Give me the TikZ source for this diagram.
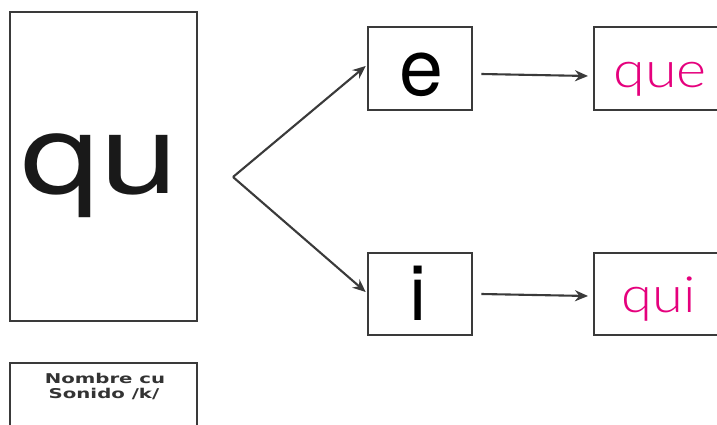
\documentclass[tikz,border=0pt]{standalone}
\usepackage{fontspec}
\setmainfont{TeX Gyre Heros}
\newfontfamily\pinkfont{Lato Light}
\newfontfamily\labfont{DejaVu Sans}
\usetikzlibrary{arrows.meta}
\definecolor{pinkq}{HTML}{E5007D}
\definecolor{boxgray}{HTML}{3A3A3A}
\tikzset{
  box/.style={draw=boxgray, line width=2.6pt, inner sep=0pt},
  open/.style={draw=boxgray, line width=2.6pt},
  conn/.style={draw=boxgray, line width=2.1pt, -{Stealth[length=13pt,width=11pt]}},
  txt/.style={anchor=base, inner sep=0pt},
}
\begin{document}
\begin{tikzpicture}[x=1pt,y=-1pt]
\useasboundingbox (0,0) rectangle (717,425);
\fill[white] (0,0) rectangle (717,425);
% big box
\node[box, minimum width=187pt, minimum height=309pt] (qu) at (103.5,166.5) {};
\node[txt, font=\fontsize{111}{111}\selectfont, text=black!90] (qut) at (100,193) {\scalebox{1.26}[1]{qu}};
% small box (cut at bottom)
\draw[open] (10,432) -- (10,363) -- (197,363) -- (197,432);
\node[txt, font=\labfont\bfseries\fontsize{13.5}{14}\selectfont, text=black!80] (lab1) at (105,383) {\scalebox{1.46}[1]{Nombre cu}};
\node[txt, font=\labfont\bfseries\fontsize{13.5}{14}\selectfont, text=black!80] (lab2) at (104,398) {\scalebox{1.46}[1]{Sonido /k/}};
% e and i boxes
\node[box, minimum width=104pt, minimum height=83pt] (e) at (420,68.5) {};
\node[txt, font=\fontsize{79}{79}\selectfont] (et) at (421,96) {e};
\node[box, minimum width=104pt, minimum height=82pt] (i) at (420,294) {};
\node[txt, font=\fontsize{77}{77}\selectfont] (it) at (418,320) {i};
% right boxes (cut off)
\draw[open] (725,27) -- (594,27) -- (594,110) -- (725,110);
\node[txt, font=\pinkfont\fontsize{50}{50}\selectfont, text=pinkq] (que) at (660,88) {\scalebox{1.15}[1]{que}};
\draw[open] (725,253) -- (594,253) -- (594,335) -- (725,335);
\node[txt, font=\pinkfont\fontsize{50}{50}\selectfont, text=pinkq] (qui) at (659,312) {\scalebox{1.12}[1]{qui}};
% connectors
\coordinate (v) at (233,177);
\coordinate (qe) at (588,76);
\coordinate (qi) at (588,296);
\draw[conn] (v) -- ([xshift=-1pt]e.west |- 0,66);
\draw[conn] (v) -- ([xshift=-1pt]i.west |- 0,292);
\draw[conn] ([xshift=8pt]e.east |- 0,74) -- (qe);
\draw[conn] ([xshift=8pt]i.east |- 0,294) -- (qi);
\end{tikzpicture}
\end{document}
